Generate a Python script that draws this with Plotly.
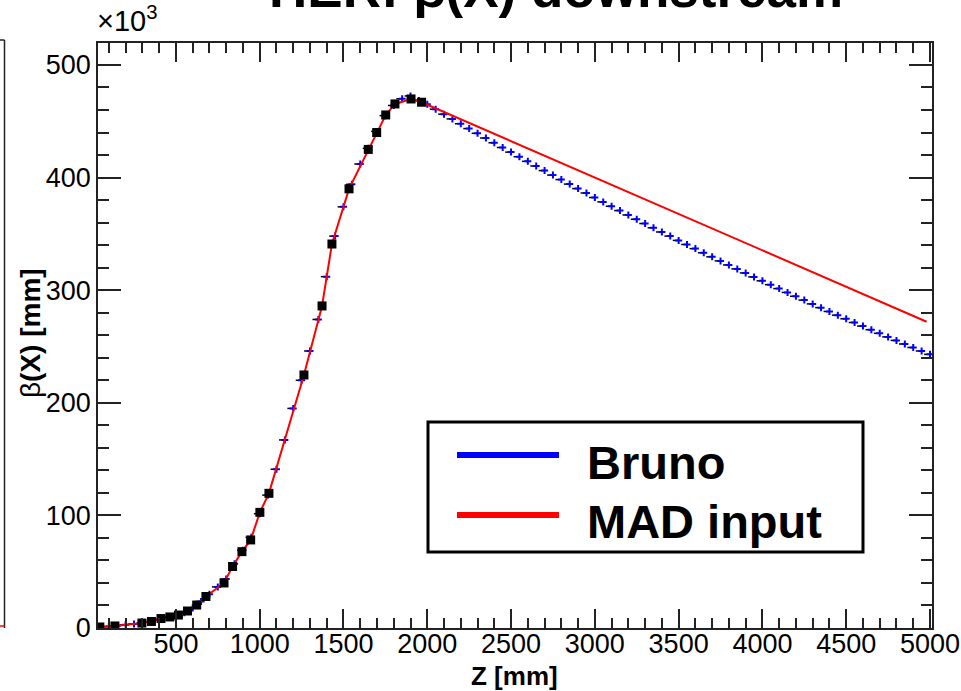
import plotly.graph_objects as go

# ---- data (beta in units of 10^3 mm) ----
bruno_z = list(range(50, 5001, 50))
bruno_beta = [
    0.9, 1.3, 2.0, 2.8, 3.6, 4.5, 5.7, 7.5, 9.3, 11.0,
    13.6, 17.8, 23.5, 30.0, 36.5, 43.5, 57.0, 69.0, 80.5, 101.5,
    118.0, 141.0, 167.0, 195.0, 220.0, 246.0, 274.0, 312.0, 348.0, 374.0,
    394.0, 412.0, 426.0, 441.0, 455.0, 464.0, 470.0, 472.5, 468.5, 465.0,
    460.7, 456.3, 452.1, 447.8, 443.5, 439.3, 435.1, 430.9, 426.7, 422.6,
    418.5, 414.4, 410.3, 406.2, 402.2, 398.2, 394.2, 390.2, 386.3, 382.3,
    378.4, 374.5, 370.7, 366.8, 363.0, 359.2, 355.4, 351.7, 348.0, 344.2,
    340.6, 336.9, 333.2, 329.6, 326.0, 322.4, 318.9, 315.3, 311.8, 308.3,
    304.9, 301.4, 298.0, 294.6, 291.2, 287.8, 284.5, 281.1, 277.8, 274.6,
    271.3, 268.1, 264.9, 261.7, 258.5, 255.4, 252.2, 249.1, 246.0, 243.0,
]

mad_z = [46, 136, 297, 354, 411, 464, 515, 569, 624, 679, 787, 838, 894, 946,
         1001, 1055, 1264, 1372, 1431, 1533, 1648, 1698, 1752, 1807, 1903, 1966, 4980]
mad_beta = [0.9, 1.8, 4.4, 5.8, 8.4, 9.8, 11.5, 15.1, 20.4, 28.0, 40.0, 54.6, 67.8, 78.2,
            102.7, 119.6, 224.7, 286.0, 341.0, 390.0, 425.0, 440.0, 455.6, 465.4, 469.8, 466.9, 272.0]
mad_marker_count = 26  # squares drawn at the measured MAD points

x_ticks = [500, 1000, 1500, 2000, 2500, 3000, 3500, 4000, 4500, 5000]
y_ticks = [0, 100, 200, 300, 400, 500]

legend_names = ["Bruno", "MAD input"]
title_text = "HER: β(X) downstream"

FONT = "Liberation Sans, Arial, Helvetica, sans-serif"

fig = go.Figure()

fig.add_trace(go.Scatter(
    x=bruno_z, y=bruno_beta, mode="markers", name=legend_names[0],
    marker=dict(symbol="cross-thin", size=5, color="#0000ff",
                line=dict(color="#0000ff", width=2)),
    error_x=dict(type="constant", symmetric=False, value=0, valueminus=35,
                 color="black", thickness=1.5, width=0),
    showlegend=False,
))
fig.add_trace(go.Scatter(
    x=mad_z, y=mad_beta, mode="lines", name=legend_names[1],
    line=dict(color="#ff0000", width=2), showlegend=False,
))
fig.add_trace(go.Scatter(
    x=mad_z[:mad_marker_count], y=mad_beta[:mad_marker_count], mode="markers",
    marker=dict(symbol="square", size=9, color="black"), showlegend=False,
))

W, H = 961, 691
L, R, T, B = 98, 29, 43, 63
PW, PH = W - L - R, H - T - B


def px(xp):
    return (xp - L) / PW


def py(yp):
    return (H - B - yp) / PH


axis_common = dict(
    showline=True, linecolor="#222222", linewidth=1.5, mirror="ticks",
    ticks="inside", tickcolor="#222222", tickwidth=1.5,
    showgrid=False, zeroline=False, automargin=False,
    ticklabeloverflow="allow",
    tickfont=dict(family=FONT, size=27, color="black"),
)

fig.update_xaxes(
    range=[35, 5012], tickvals=x_ticks, ticklen=19, ticklabelstandoff=-9,
    minor=dict(ticks="inside", dtick=100, ticklen=10, tickcolor="#222222", tickwidth=1.5),
    **axis_common,
)
fig.update_yaxes(
    range=[0, 519.5], tickvals=y_ticks, ticklen=23,
    minor=dict(ticks="inside", dtick=20, ticklen=11, tickcolor="#222222", tickwidth=1.5),
    **axis_common,
)

annotations = [
    dict(text="<b>" + title_text + "</b>", x=px(556), y=py(20), xref="paper", yref="paper",
         xanchor="center", yanchor="bottom", showarrow=False,
         font=dict(family=FONT, size=53, color="black")),
    dict(text="<b>Z [mm]</b>", x=px(514), y=py(676), xref="paper", yref="paper",
         xanchor="center", yanchor="middle", showarrow=False,
         font=dict(family=FONT, size=26, color="black")),
    dict(text="β<b>(X) [mm]</b>", x=px(30), y=py(333), xref="paper", yref="paper",
         xanchor="center", yanchor="middle", showarrow=False, textangle=-90,
         font=dict(family=FONT, size=28, color="black")),
    dict(text="×10<sup>3</sup>", x=px(95), y=py(39), xref="paper", yref="paper",
         xanchor="left", yanchor="bottom", showarrow=False,
         font=dict(family=FONT, size=29, color="black")),
    dict(text="<b>" + legend_names[0] + "</b>", x=px(585), y=py(462), xref="paper", yref="paper",
         xanchor="left", yanchor="middle", showarrow=False,
         font=dict(family=FONT, size=47, color="black")),
    dict(text="<b>" + legend_names[1] + "</b>", x=px(585), y=py(521), xref="paper", yref="paper",
         xanchor="left", yanchor="middle", showarrow=False,
         font=dict(family=FONT, size=47, color="black")),
]

shapes = [
    # legend box and keys
    dict(type="rect", xref="paper", yref="paper", x0=px(428), x1=px(863), y0=py(552), y1=py(422),
         line=dict(color="black", width=3), fillcolor="white", layer="above"),
    dict(type="line", xref="paper", yref="paper", x0=px(457), x1=px(559), y0=py(455), y1=py(455),
         line=dict(color="#0000ff", width=6), layer="above"),
    dict(type="line", xref="paper", yref="paper", x0=px(457), x1=px(559), y0=py(515), y1=py(515),
         line=dict(color="#ff0000", width=6), layer="above"),
    # fragment of the neighbouring panel at the left edge
    dict(type="line", xref="paper", yref="paper", x0=px(4.5), x1=px(4.5), y0=py(628), y1=py(40),
         line=dict(color="#222222", width=1.5)),
    dict(type="line", xref="paper", yref="paper", x0=px(0), x1=px(4.5), y0=py(40), y1=py(40),
         line=dict(color="#222222", width=1.5)),
    dict(type="line", xref="paper", yref="paper", x0=px(0), x1=px(4.5), y0=py(626), y1=py(626),
         line=dict(color="#ff0000", width=1.5)),
]

fig.update_layout(
    width=W, height=H,
    margin=dict(l=L, r=R, t=T, b=B, pad=0, autoexpand=False),
    paper_bgcolor="white", plot_bgcolor="white",
    font=dict(family=FONT, color="black"),
    showlegend=False,
    annotations=annotations,
    shapes=shapes,
)

fig.write_html("out.html")
